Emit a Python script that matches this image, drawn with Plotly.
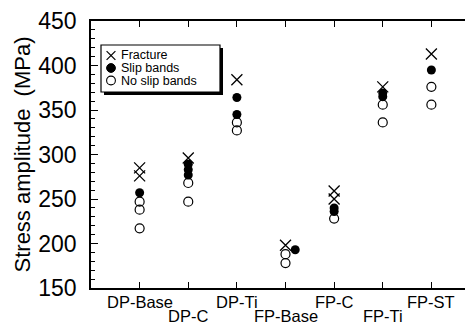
import plotly.graph_objects as go

categories = ["DP-Base", "DP-C", "DP-Ti", "FP-Base", "FP-C", "FP-Ti", "FP-ST"]
label_row = [0, 1, 0, 1, 0, 1, 0]

fracture_cat = [0, 0, 1, 2, 3, 4, 4, 5, 6]
fracture_val = [285, 276, 296, 384, 198, 259, 250, 376, 413]

slip_cat = [0, 1, 1, 1, 2, 2, 3.2, 4, 4, 5, 5, 6]
slip_val = [257, 289, 283, 277, 364, 345, 193, 240, 236, 369, 365, 395]

noslip_cat = [0, 0, 0, 1, 1, 2, 2, 3, 3, 4, 5, 5, 6, 6]
noslip_val = [247, 238, 217, 268, 247, 336, 327, 188, 178, 228, 356, 336, 376, 356]

FONT = "Liberation Sans, Arial, sans-serif"

fig = go.Figure()
fig.add_trace(go.Scatter(x=noslip_cat, y=noslip_val, mode="markers", name="No slip bands",
                         marker=dict(symbol="circle-open", size=9, color="black", line=dict(width=1.2, color="black")),
                         showlegend=False))
fig.add_trace(go.Scatter(x=slip_cat, y=slip_val, mode="markers", name="Slip bands",
                         marker=dict(symbol="circle", size=9, color="black"),
                         showlegend=False))
fig.add_trace(go.Scatter(x=fracture_cat, y=fracture_val, mode="markers", name="Fracture",
                         marker=dict(symbol="x-thin-open", size=11, color="black", line=dict(width=1.3, color="black")),
                         showlegend=False))

L, R, T, B = 83, 472, 13, 280
def px(x):
    return (x - L) / (R - L)
def py(y):
    return (B - y) / (B - T)

shapes = []
# legend shadow and box
shapes.append(dict(type="rect", xref="paper", yref="paper", x0=px(96), x1=px(215), y0=py(40), y1=py(87),
                   fillcolor="black", line=dict(width=0)))
shapes.append(dict(type="rect", xref="paper", yref="paper", x0=px(93), x1=px(212), y0=py(37), y1=py(84),
                   fillcolor="white", line=dict(width=1.2, color="black")))
rows = [47.5, 60, 72.5]
mx = 103
r = 4.4
# X symbol
shapes.append(dict(type="line", xref="paper", yref="paper", x0=px(mx - r), x1=px(mx + r), y0=py(rows[0] - r), y1=py(rows[0] + r), line=dict(width=1.2, color="black")))
shapes.append(dict(type="line", xref="paper", yref="paper", x0=px(mx - r), x1=px(mx + r), y0=py(rows[0] + r), y1=py(rows[0] - r), line=dict(width=1.2, color="black")))
# filled circle
shapes.append(dict(type="circle", xref="paper", yref="paper", x0=px(mx - r), x1=px(mx + r), y0=py(rows[1] + r), y1=py(rows[1] - r), fillcolor="black", line=dict(width=1, color="black")))
# open circle
shapes.append(dict(type="circle", xref="paper", yref="paper", x0=px(mx - r), x1=px(mx + r), y0=py(rows[2] + r), y1=py(rows[2] - r), fillcolor="white", line=dict(width=1.1, color="black")))

annotations = []
for name, yy in zip(["Fracture", "Slip bands", "No slip bands"], rows):
    annotations.append(dict(text=name, xref="paper", yref="paper", x=px(112), y=py(yy), xanchor="left", yanchor="middle",
                            showarrow=False, borderpad=0,
                            font=dict(family=FONT, size=12.5, color="black")))

# category labels on two staggered rows
row_y = [294, 308]
for i, (cat, rr) in enumerate(zip(categories, label_row)):
    annotations.append(dict(text=cat, xref="x", yref="paper", x=i, y=py(row_y[rr]), xanchor="center", yanchor="middle",
                            showarrow=False, borderpad=0,
                            font=dict(family=FONT, size=16.5, color="black")))

fig.update_layout(
    width=473, height=327,
    margin=dict(l=L, r=473 - R, t=T, b=327 - B),
    paper_bgcolor="white", plot_bgcolor="white",
    shapes=shapes, annotations=annotations,
    showlegend=False,
    font=dict(family=FONT, color="black"),
)
fig.update_xaxes(
    range=[-1, 7], tickvals=list(range(len(categories))), showticklabels=False,
    ticks="inside", ticklen=6, tickwidth=1.3, tickcolor="black",
    showline=True, linecolor="black", linewidth=1.5, mirror="ticks",
    showgrid=False, zeroline=False, automargin=False,
)
fig.update_yaxes(
    range=[150, 450], tickvals=[150, 200, 250, 300, 350, 400, 450],
    ticks="inside", ticklen=7, tickwidth=1.3, tickcolor="black",
    minor=dict(dtick=10, ticks="inside", ticklen=4, tickwidth=1, tickcolor="black", showgrid=False),
    showline=True, linecolor="black", linewidth=1.5, mirror="ticks",
    showgrid=False, zeroline=False, automargin=False,
    ticklabelstandoff=8,
    tickfont=dict(family=FONT, size=23, color="black"),
    title=dict(text="Stress amplitude  (MPa)", font=dict(family=FONT, size=22, color="black"), standoff=2),
)

fig.write_html("out.html")
